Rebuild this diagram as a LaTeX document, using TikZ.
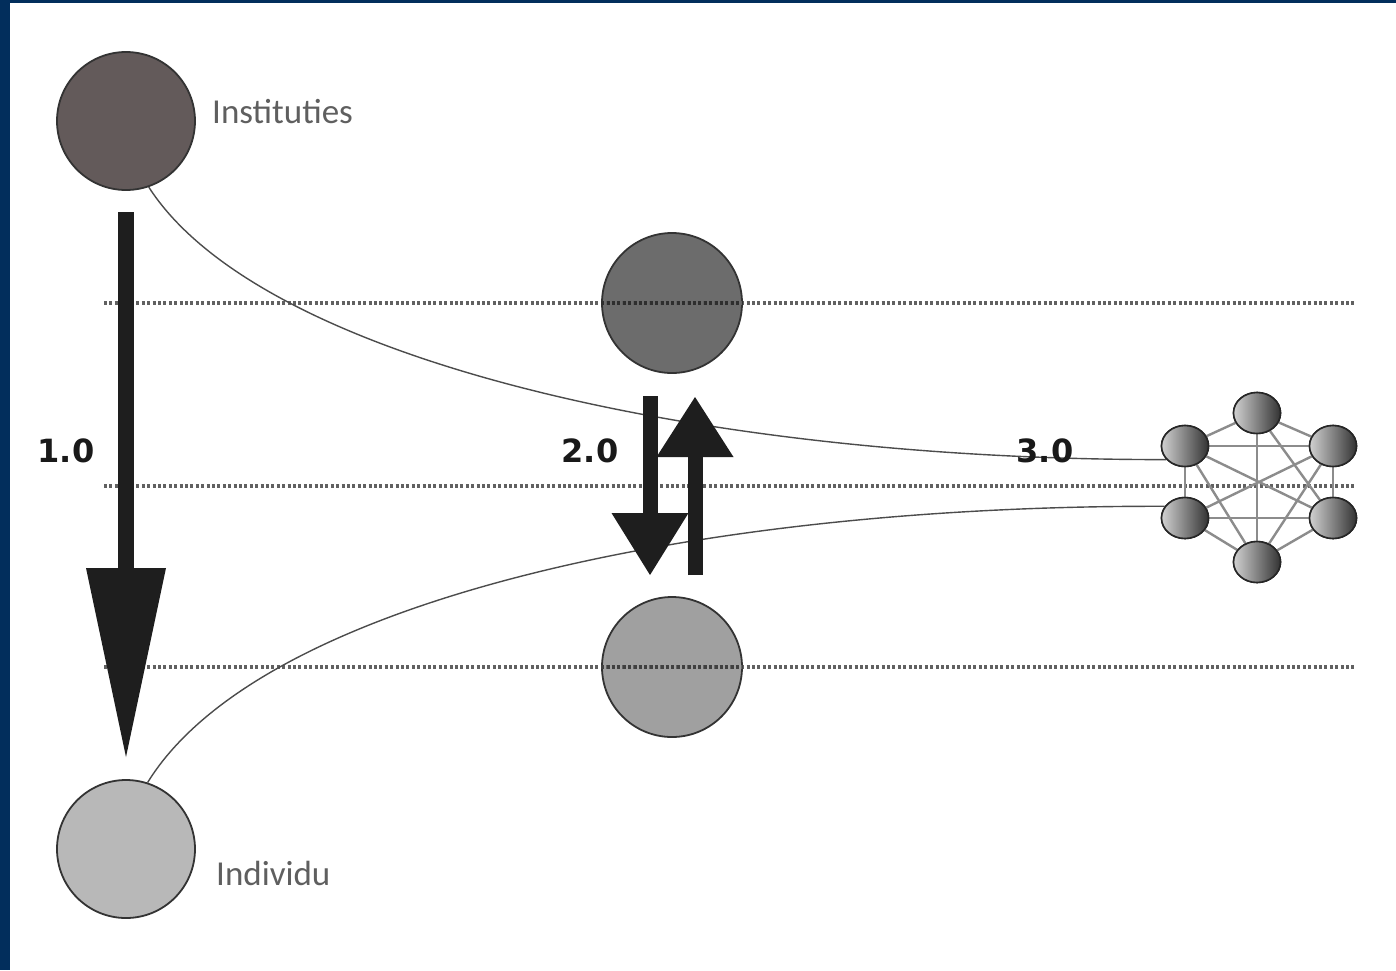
\documentclass[tikz,border=0pt]{standalone}
\usepackage{fontspec}
\newfontfamily\labfont{Carlito}
\newfontfamily\numfont{DejaVu Sans}
\usetikzlibrary{shapes.geometric,arrows.meta,calc}
\definecolor{frameblue}{RGB}{2,46,92}
\definecolor{instfill}{RGB}{99,90,90}
\definecolor{indfill}{RGB}{184,184,184}
\definecolor{midtop}{RGB}{108,108,108}
\definecolor{midbot}{RGB}{160,160,160}
\definecolor{arrowblack}{RGB}{30,30,30}
\definecolor{labgray}{RGB}{95,95,95}
\tikzset{
  bigcircle/.style={circle, draw=black!80, line width=1.8pt, inner sep=0pt, minimum size=138pt},
  dotline/.style={draw=black!62, line width=3.2pt, dash pattern=on 3pt off 2.4pt},
  flowcurve/.style={draw=black!70, line width=1.4pt},
  netedge/.style={draw=black!45, line width=2.4pt},
  netnode/.style={ellipse, draw=black!85, line width=1.6pt, inner sep=0pt,
    minimum width=47pt, minimum height=41pt, left color=black!18, right color=black!80},
  blockarrow/.style={draw=arrowblack, line width=#1},
  numlabel/.style={text=black!90, font=\numfont\bfseries\fontsize{32}{38}\selectfont, inner sep=0pt},
  namelabel/.style={text=labgray, font=\labfont\fontsize{35}{42}\selectfont, inner sep=0pt, anchor=west}
}
\begin{document}
\begin{tikzpicture}[x=1pt,y=-1pt]
\useasboundingbox (0,0) rectangle (1396,970);
\fill[frameblue] (0,0) rectangle (1396,970);
\fill[white] (10,3) rectangle (1396,970);

% circles
\node[bigcircle, fill=instfill] (inst) at (126,121) {};
\node[bigcircle, fill=indfill] (ind) at (126,849) {};
\node[bigcircle, minimum size=140pt, fill=midtop] (mtop) at (672,303) {};
\node[bigcircle, minimum size=140pt, fill=midbot] (mbot) at (672,667) {};

% dotted guide lines
\coordinate (g1a) at (104,303); \coordinate (g1b) at (1356,303);
\coordinate (g2a) at (104,486); \coordinate (g2b) at (1356,486);
\coordinate (g3a) at (104,667); \coordinate (g3b) at (1356,667);
\draw[dotline] (g1a) -- (g1b);
\draw[dotline] (g2a) -- (g2b);
\draw[dotline] (g3a) -- (g3b);
\draw[dotline, draw=black!82] (mtop.west) -- (mtop.east);
\draw[dotline, draw=black!75] (mbot.west) -- (mbot.east);

% network nodes
\node[netnode] (ntop) at (1257,413) {};
\node[netnode] (nul) at (1185,446) {};
\node[netnode] (nur) at (1333,446) {};
\node[netnode] (nll) at (1185,518) {};
\node[netnode] (nlr) at (1333,518) {};
\node[netnode] (nbot) at (1257,562) {};

% curves
\draw[flowcurve] (inst.-71) .. controls (260,360) and (700,460) .. (nul.216);
\draw[flowcurve] (ind.72) .. controls (260,600) and (700,505) .. (nll.150);

% network edges (drawn, then nodes redrawn on top)
\foreach \a/\b in {ntop/nul, ntop/nur, ntop/nbot, ntop/nlr, nul/nur, nul/nll, nul/nlr, nul/nbot,
                   nur/nlr, nur/nll, nur/nbot, nll/nlr, nll/nbot, nlr/nbot}
  \draw[netedge] (\a.center) -- (\b.center);
\node[netnode] at (ntop) {};
\node[netnode] at (nul) {};
\node[netnode] at (nur) {};
\node[netnode] at (nll) {};
\node[netnode] at (nlr) {};
\node[netnode] at (nbot) {};

% block arrows
\coordinate (a1s) at (126,212); \coordinate (a1e) at (126,757);
\draw[blockarrow=16pt, -{Triangle[length=189pt, width=80pt, line width=0pt]}, arrowblack] (a1s) -- (a1e);
\coordinate (a2s) at (650,396); \coordinate (a2e) at (650,575);
\draw[blockarrow=15pt, -{Triangle[length=62pt, width=77pt, line width=0pt]}, arrowblack] (a2s) -- (a2e);
\coordinate (a3s) at (695,575); \coordinate (a3e) at (695,397);
\draw[blockarrow=15pt, -{Triangle[length=60pt, width=77pt, line width=0pt]}, arrowblack] (a3s) -- (a3e);

% labels
\node[namelabel] (tinst) at (212,112) {Instituties};
\node[namelabel] (tind) at (216,873) {Individu};
\node[numlabel] (n1) at (66,451) {1.0};
\node[numlabel] (n2) at (590,451) {2.0};
\node[numlabel] (n3) at (1045,451) {3.0};
\end{tikzpicture}
\end{document}
